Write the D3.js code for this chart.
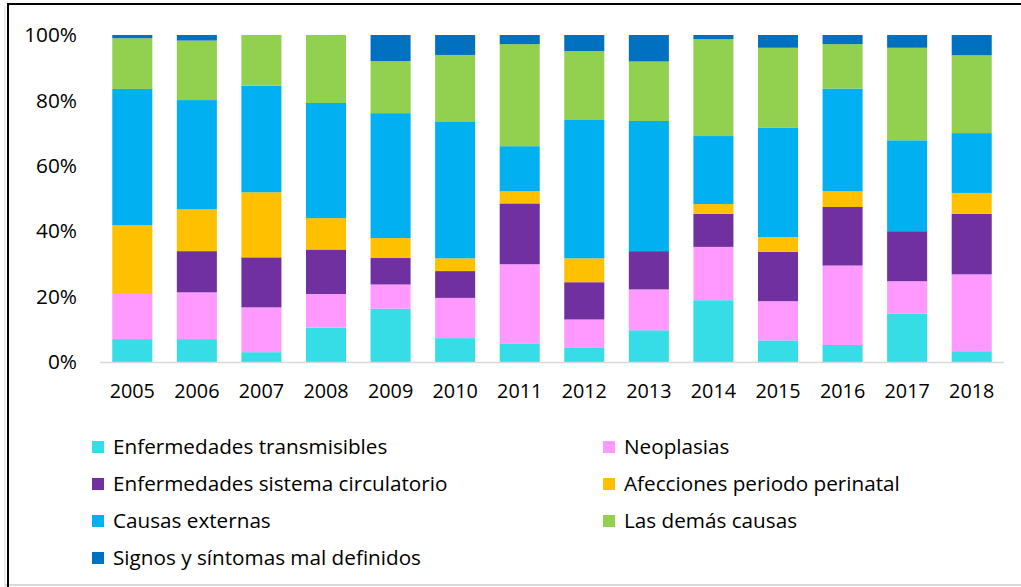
<!DOCTYPE html>
<html>
<head>
<meta charset="utf-8">
<script src="https://cdn.jsdelivr.net/npm/d3@7"></script>
<style>
  body { margin: 0; background: #fff; }
  text { font-family: "Open Sans", sans-serif; fill: #000; }
</style>
</head>
<body>
<svg width="1021" height="587"></svg>
<script>
// years on the x axis
var years = ["2005","2006","2007","2008","2009","2010","2011","2012","2013","2014","2015","2016","2017","2018"];

// series, bottom to top (percent of each year)
var transmisibles = [7.0, 7.0, 3.0, 10.5, 16.3, 7.3, 5.7, 4.3, 9.7, 18.9, 6.6, 5.2, 14.8, 3.3];
var neoplasias    = [14.1, 14.3, 13.7, 10.3, 7.4, 12.3, 24.2, 8.7, 12.5, 16.3, 12.0, 24.3, 9.9, 23.5];
var circulatorio  = [0, 12.6, 15.3, 13.6, 8.1, 8.2, 18.6, 11.4, 11.7, 10.1, 15.1, 17.9, 15.3, 18.5];
var perinatal     = [20.7, 12.8, 19.9, 9.6, 6.1, 3.9, 3.7, 7.3, 0, 3.0, 4.5, 4.8, 0, 6.4];
var externas      = [41.7, 33.4, 32.6, 35.2, 38.2, 41.7, 13.8, 42.3, 39.8, 20.8, 33.4, 31.4, 27.8, 18.3];
var demas         = [15.5, 18.2, 15.5, 20.8, 15.9, 20.5, 31.2, 21.1, 18.2, 29.6, 24.5, 13.6, 28.3, 23.8];
var signos        = [1.0, 1.7, 0, 0, 8.0, 6.1, 2.8, 4.9, 8.1, 1.3, 3.9, 2.8, 3.9, 6.2];

var seriesNames = ["Enfermedades transmisibles", "Neoplasias", "Enfermedades sistema circulatorio",
  "Afecciones periodo perinatal", "Causas externas", "Las demás causas", "Signos y síntomas mal definidos"];
var seriesValues = [transmisibles, neoplasias, circulatorio, perinatal, externas, demas, signos];
var colors = ["#36dce6", "#ff99ff", "#7030a0", "#ffc000", "#00b0f0", "#92d050", "#0070c0"];
var yTicks = [0, 0.2, 0.4, 0.6, 0.8, 1];

var svg = d3.select("svg");

// frame
svg.append("line").attr("x1", 5).attr("x2", 5).attr("y1", 6).attr("y2", 587).attr("stroke", "#d9d9d9").attr("stroke-width", 1);
svg.append("line").attr("x1", 5).attr("x2", 1021).attr("y1", 585).attr("y2", 585).attr("stroke", "#d9d9d9").attr("stroke-width", 2);
svg.append("line").attr("x1", 8).attr("x2", 1021).attr("y1", 4).attr("y2", 4).attr("stroke", "#000").attr("stroke-width", 2);
svg.append("line").attr("x1", 8).attr("x2", 8).attr("y1", 3).attr("y2", 587).attr("stroke", "#000").attr("stroke-width", 2);

var table = years.map(function(yr, i) {
  var row = { year: yr };
  seriesNames.forEach(function(n, k) { row[n] = seriesValues[k][i]; });
  return row;
});

var stacked = d3.stack().keys(seriesNames).offset(d3.stackOffsetExpand)(table);

var x = d3.scaleBand().domain(years).range([100, 1004]).paddingInner(0.38).paddingOuter(0.19);
var y = d3.scaleLinear().domain([0, 1]).range([362, 35]);

svg.append("g").selectAll("g")
  .data(stacked)
  .join("g")
  .attr("fill", function(d, i) { return colors[i]; })
  .selectAll("rect")
  .data(function(d) { return d; })
  .join("rect")
  .attr("x", function(d) { return x(d.data.year); })
  .attr("width", x.bandwidth())
  .attr("y", function(d) { return y(d[1]); })
  .attr("height", function(d) { return y(d[0]) - y(d[1]); });

// baseline
svg.append("line").attr("x1", 100).attr("x2", 1004).attr("y1", 362.5).attr("y2", 362.5)
  .attr("stroke", "#d9d9d9").attr("stroke-width", 1.5);

// y axis labels
var yAxis = svg.append("g").attr("transform", "translate(77,0)")
  .call(d3.axisLeft(y).tickValues(yTicks).tickFormat(d3.format(".0%")).tickSize(0).tickPadding(0));
yAxis.select(".domain").remove();
yAxis.selectAll("text").attr("font-size", 20.8).attr("font-family", "'Open Sans', sans-serif").attr("fill", "#000");

// x axis labels
var xAxis = svg.append("g").attr("transform", "translate(0,362)")
  .call(d3.axisBottom(x).tickSize(0).tickPadding(22));
xAxis.select(".domain").remove();
xAxis.selectAll("text").attr("font-size", 19.8).attr("font-family", "'Open Sans', sans-serif").attr("fill", "#000");

// legend
var legend = svg.append("g").selectAll("g")
  .data(seriesNames)
  .join("g")
  .attr("transform", function(d, i) {
    var col = i % 2, row = Math.floor(i / 2);
    return "translate(" + (col === 0 ? 92 : 603) + "," + (447 + row * 37) + ")";
  });
legend.append("rect").attr("x", 0).attr("y", -6).attr("width", 12).attr("height", 12)
  .attr("fill", function(d, i) { return colors[i]; });
legend.append("text").attr("x", 21).attr("y", 7).attr("font-size", 20.7)
  .text(function(d) { return d; });
</script>
</body>
</html>
